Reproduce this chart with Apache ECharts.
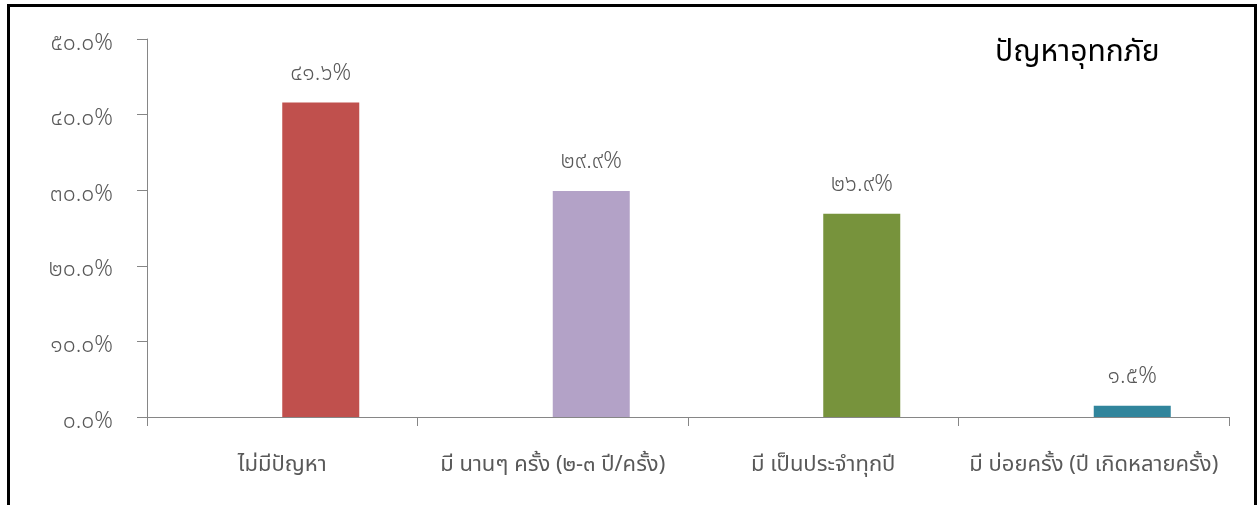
<!DOCTYPE html>
<html>
<head>
<meta charset="utf-8">
<script src="https://cdn.jsdelivr.net/npm/echarts@6/dist/echarts.min.js"></script>
<style>
html,body{margin:0;padding:0;background:#fff;}
#c{width:1259px;height:505px;}
</style>
</head>
<body>
<div id="c"></div>
<script>
const title = 'ปัญหาอุทกภัย';
const categories = ['ไม่มีปัญหา', 'มี นานๆ ครั้ง (๒-๓ ปี/ครั้ง)', 'มี เป็นประจำทุกปี', 'มี บ่อยครั้ง (ปี เกิดหลายครั้ง)'];
const values = [41.6, 29.9, 26.9, 1.5];
const barColors = ['#C0504D', '#B3A2C7', '#77933C', '#31859C'];
const yTickLabels = ['๐.๐%', '๑๐.๐%', '๒๐.๐%', '๓๐.๐%', '๔๐.๐%', '๕๐.๐%'];

const thaiDigits = '๐๑๒๓๔๕๖๗๘๙';
function toThai(s){ return String(s).replace(/[0-9]/g, d => thaiDigits[+d]); }

const FONT = '"Noto Sans Thai","Loma","Tlwg Typist","Garuda","Noto Sans","DejaVu Sans",sans-serif';

const chart = echarts.init(document.getElementById('c'), null, {renderer:'canvas'});
chart.setOption({
  animation:false,
  textStyle:{fontFamily:FONT},
  graphic:[{
    type:'rect', shape:{x:8.5, y:5.5, width:1247, height:520},
    style:{fill:'none', stroke:'#000', lineWidth:3}, silent:true
  },{
    type:'text', left:995, top:40,
    style:{text:title, fontSize:30, fill:'#000', fontFamily:FONT}
  }],
  grid:{left:147, right:30, top:39, bottom:88, containLabel:false},
  xAxis:{
    type:'category', data:categories,
    axisLine:{lineStyle:{color:'#868686', width:1}},
    axisTick:{show:true, length:9, alignWithLabel:false, lineStyle:{color:'#868686'}},
    axisLabel:{color:'#595959', fontSize:22, margin:39, fontFamily:FONT, interval:0},
    splitLine:{show:false}
  },
  yAxis:{
    type:'value', min:0, max:50, interval:10,
    axisLine:{show:true, lineStyle:{color:'#868686', width:1}},
    axisTick:{show:true, length:10, inside:false, lineStyle:{color:'#868686'}},
    axisLabel:{color:'#595959', fontSize:23, fontWeight:300, margin:34, fontFamily:FONT,
      verticalAlign:'top', lineHeight:12,
      formatter:(v)=>yTickLabels[Math.round(v/10)]},
    splitLine:{show:false}
  },
  series:[{
    type:'bar', data:categories.map(()=>'-'), barWidth:77, barGap:'0%', silent:true
  },{
    type:'bar', barWidth:77, barGap:'0%',
    data:values.map((v,i)=>({value:v, itemStyle:{color:barColors[i]}})),
    label:{show:true, position:'top', distance:16, color:'#595959', fontSize:23, fontWeight:300, fontFamily:FONT,
      formatter:(p)=>toThai(p.value.toFixed(1))+'%'}
  }]
});
</script>
</body>
</html>
